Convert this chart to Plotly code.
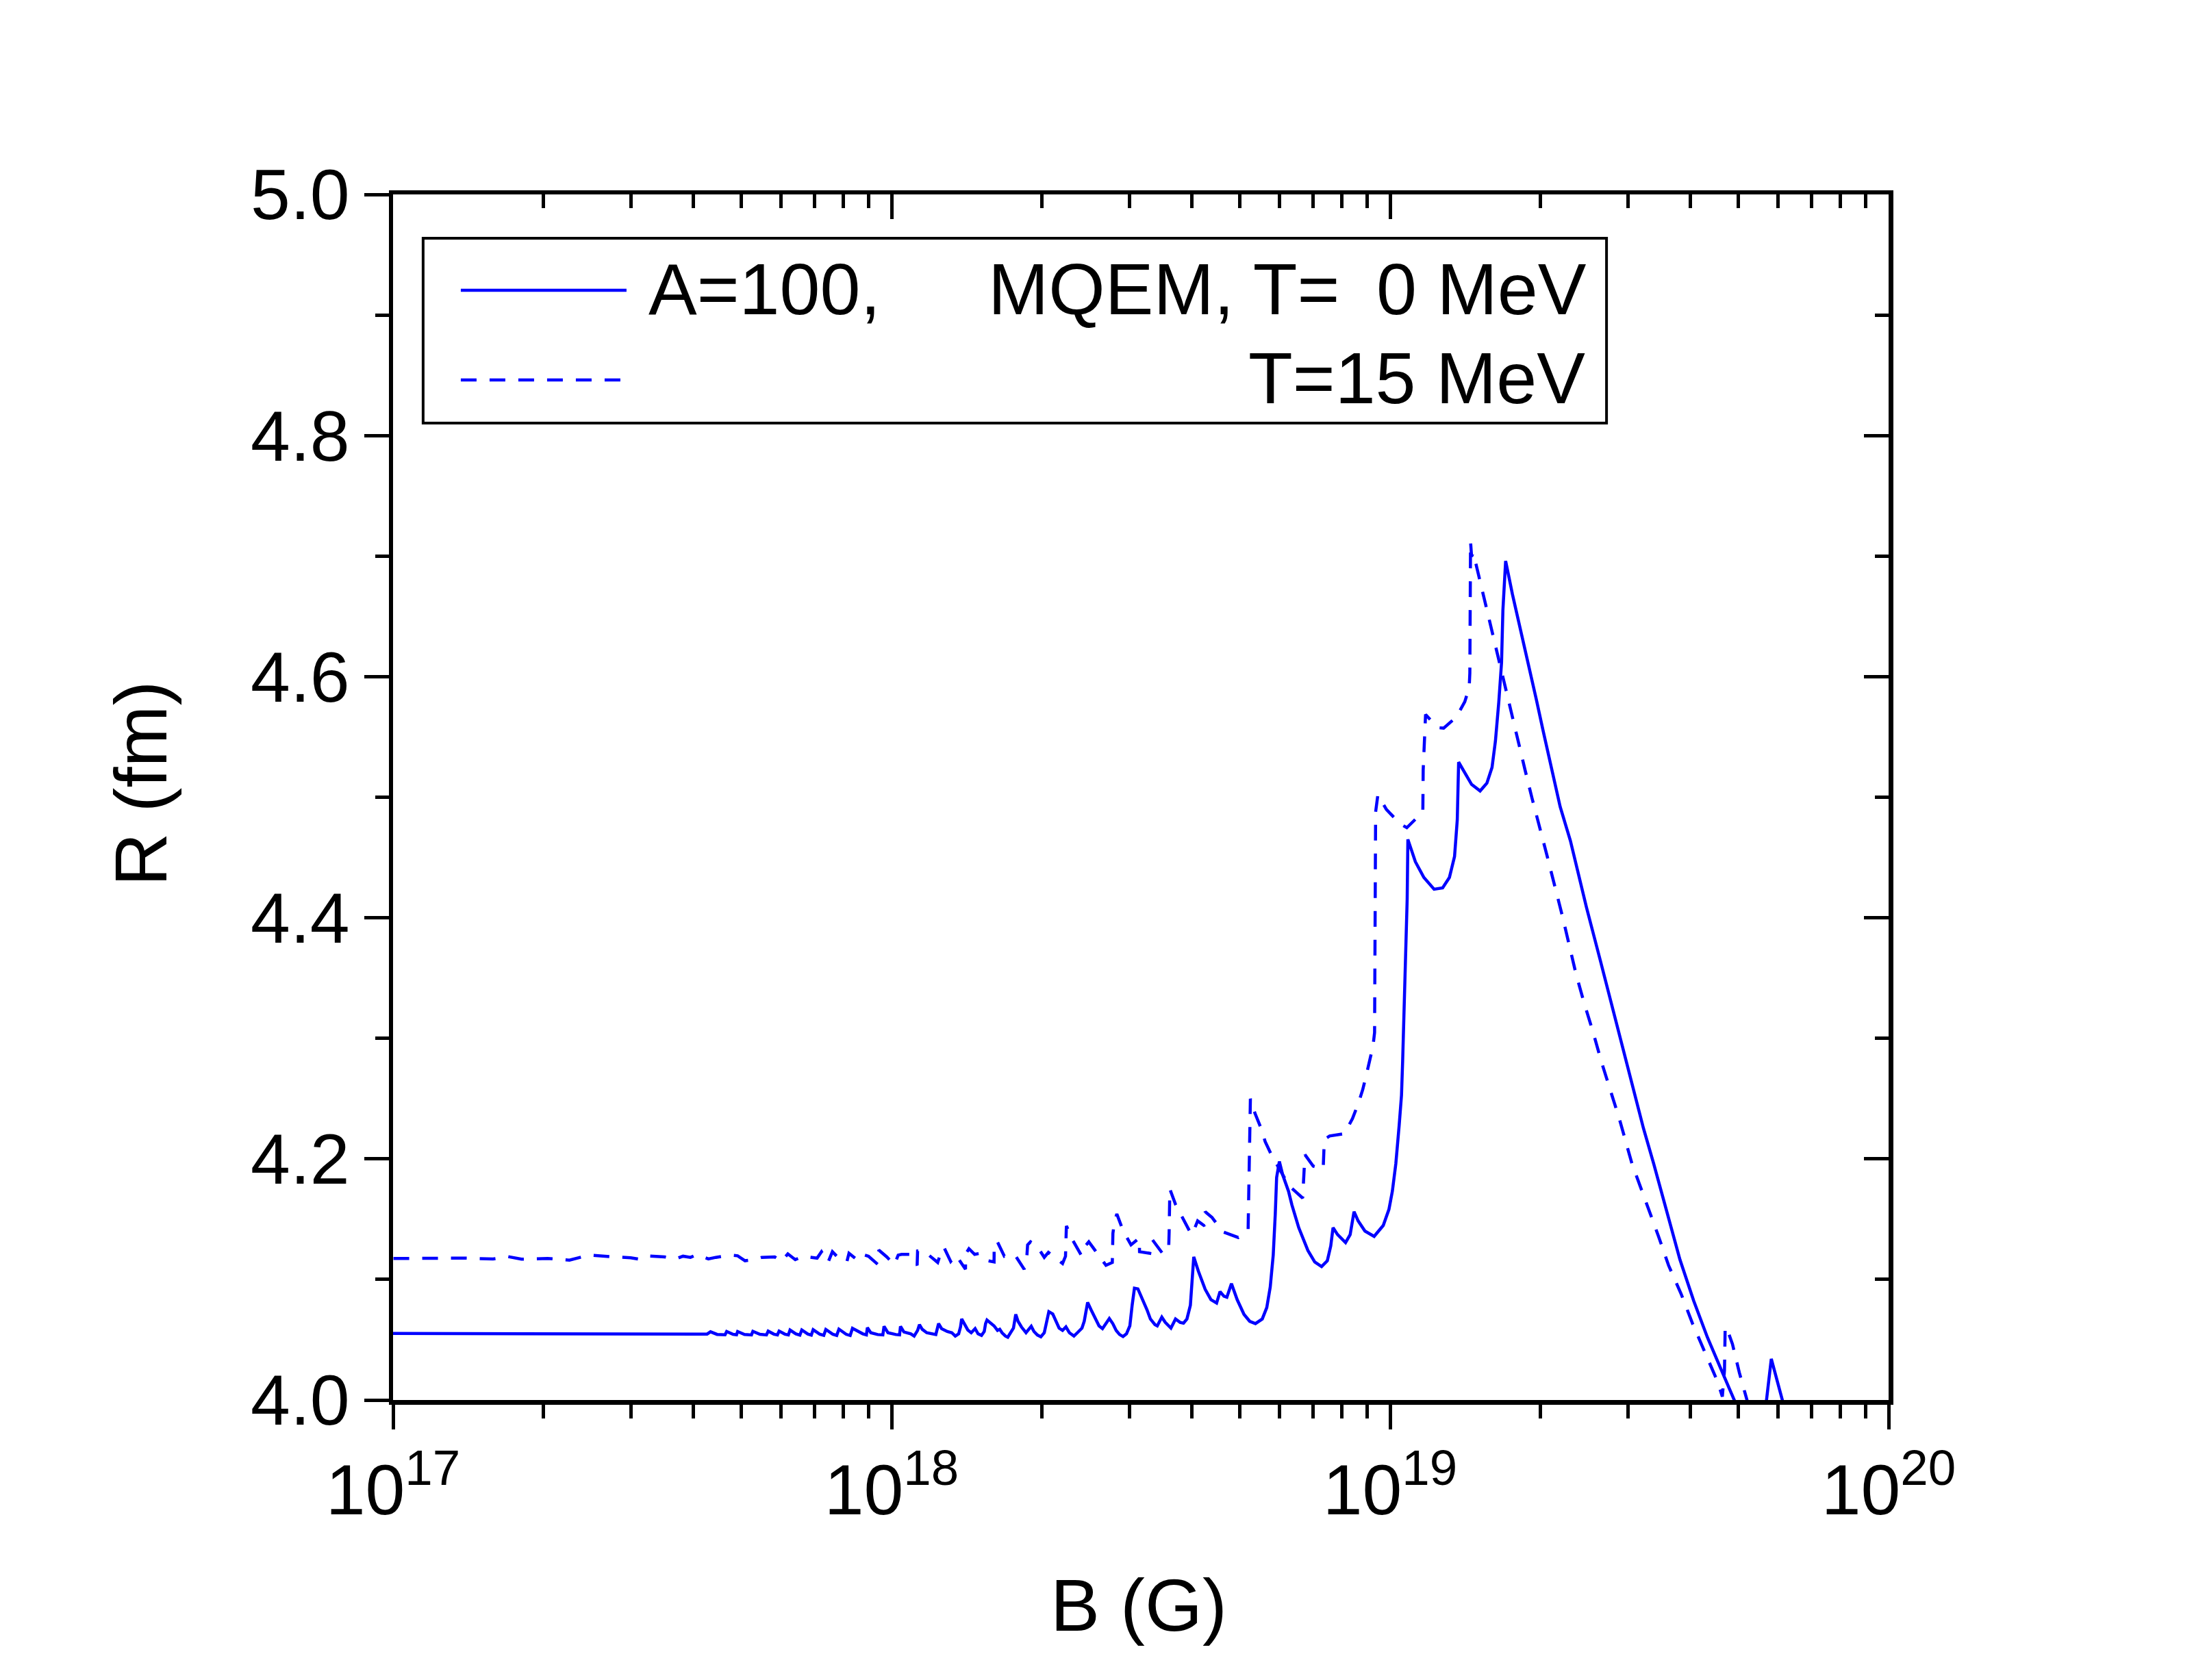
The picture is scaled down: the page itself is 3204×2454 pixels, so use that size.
import plotly.graph_objects as go

# ---------------- data ----------------
# T = 0 MeV curve: log10(B/G) and R (fm)
logB_T0 = [
    17.000, 17.200, 17.400, 17.600, 17.630, 17.6368, 17.650, 17.666, 17.6692, 17.682,
    17.689, 17.6912, 17.705, 17.719, 17.7218, 17.736, 17.749, 17.7525, 17.764, 17.771,
    17.7744, 17.786, 17.793, 17.7963, 17.808, 17.816, 17.8199, 17.832, 17.839, 17.8427,
    17.856, 17.864, 17.8681, 17.882, 17.890, 17.8944, 17.909, 17.917, 17.9216, 17.9423,
    17.9495, 17.9515, 17.9583, 17.9721, 17.9825, 17.9849, 17.9927, 18.0087, 18.0160, 18.0179,
    18.0247, 18.0385, 18.0453, 18.0522, 18.0559, 18.0614, 18.0705, 18.0888, 18.0943, 18.1003,
    18.1071, 18.1117, 18.1209, 18.1278, 18.1346, 18.1383, 18.1406, 18.1461, 18.1529, 18.1598,
    18.1676, 18.1735, 18.1804, 18.1859, 18.1886, 18.1914, 18.1987, 18.2056, 18.2125, 18.2170,
    18.2216, 18.2285, 18.2331, 18.2390, 18.2445, 18.2491, 18.2537, 18.2605, 18.2697, 18.2802,
    18.2857, 18.2926, 18.2995, 18.3063, 18.3109, 18.3155, 18.3233, 18.3292, 18.3361, 18.3430,
    18.3498, 18.3567, 18.3658, 18.3727, 18.3819, 18.3865, 18.3933, 18.4002, 18.4093, 18.4162,
    18.4231, 18.4299, 18.4368, 18.4437, 18.4506, 18.4574, 18.4643, 18.4712, 18.4780, 18.4826,
    18.4872, 18.4941, 18.5032, 18.5124, 18.5192, 18.5284, 18.5330, 18.5421, 18.5490, 18.5604,
    18.5696, 18.5788, 18.5856, 18.5925, 18.5994, 18.6039, 18.6062, 18.6154, 18.6222, 18.6291,
    18.6406, 18.6520, 18.6589, 18.6667, 18.6726, 18.6818, 18.6932, 18.7070, 18.7184, 18.7299,
    18.7436, 18.7527, 18.7596, 18.7656, 18.7697, 18.7724, 18.7779, 18.7848, 18.7962, 18.8031,
    18.8168, 18.8260, 18.8352, 18.8489, 18.8626, 18.8741, 18.8810, 18.8856, 18.8947, 18.9107,
    18.9199, 18.9277, 18.9359, 18.9496, 18.9680, 18.9863, 18.9977, 19.0046, 19.0115, 19.0183,
    19.0229, 19.0252, 19.0275, 19.0298, 19.0320, 19.0343, 19.0357, 19.0507, 19.0678, 19.0883,
    19.1054, 19.1190, 19.1293, 19.1348, 19.1375, 19.1498, 19.1635, 19.1806, 19.1942, 19.2045,
    19.2113, 19.2181, 19.2236, 19.2263, 19.2297, 19.2318, 19.2455, 19.2626, 19.2796, 19.2933,
    19.3070, 19.3241, 19.3412, 19.3617, 19.3938, 19.4213, 19.4487, 19.4762, 19.5083, 19.5289,
    19.5540, 19.5815, 19.6090, 19.6364, 19.6639, 19.6914, 19.6960, None, 19.7540, 19.7647,
    19.7875, 19.7900,
]
R_T0 = [
    4.0552, 4.0551, 4.0551, 4.0550, 4.0547, 4.0566, 4.0544, 4.0541, 4.0568, 4.0545,
    4.0541, 4.0568, 4.0544, 4.0540, 4.0570, 4.0545, 4.0540, 4.0571, 4.0546, 4.0540,
    4.0572, 4.0546, 4.0540, 4.0580, 4.0548, 4.0538, 4.0581, 4.0547, 4.0538, 4.0583,
    4.0546, 4.0537, 4.0585, 4.0546, 4.0536, 4.0588, 4.0545, 4.0535, 4.0595, 4.0549,
    4.0540, 4.0600, 4.0558, 4.0543, 4.0540, 4.0611, 4.0558, 4.0543, 4.0540, 4.0611,
    4.0564, 4.0549, 4.0530, 4.0577, 4.0625, 4.0587, 4.0558, 4.0543, 4.0634, 4.0592,
    4.0577, 4.0568, 4.0558, 4.0530, 4.0549, 4.0606, 4.0672, 4.0634, 4.0581, 4.0558,
    4.0592, 4.0549, 4.0536, 4.0568, 4.0634, 4.0663, 4.0634, 4.0615, 4.0577, 4.0587,
    4.0558, 4.0530, 4.0521, 4.0558, 4.0596, 4.0710, 4.0653, 4.0606, 4.0558, 4.0611,
    4.0568, 4.0539, 4.0524, 4.0558, 4.0634, 4.0733, 4.0714, 4.0653, 4.0596, 4.0577,
    4.0606, 4.0558, 4.0530, 4.0558, 4.0596, 4.0653, 4.0810, 4.0748, 4.0672, 4.0615,
    4.0592, 4.0634, 4.0676, 4.0634, 4.0577, 4.0543, 4.0526, 4.0549, 4.0615, 4.0786,
    4.0928, 4.0922, 4.0842, 4.0748, 4.0672, 4.0625, 4.0615, 4.0687, 4.0644, 4.0596,
    4.0672, 4.0644, 4.0638, 4.0672, 4.0786, 4.1013, 4.1187, 4.1069, 4.0994, 4.0918,
    4.0833, 4.0804, 4.0899, 4.0861, 4.0852, 4.0965, 4.0833, 4.0710, 4.0653, 4.0634,
    4.0672, 4.0767, 4.0937, 4.1202, 4.1543, 4.1846, 4.1978, 4.1865, 4.1732, 4.1618,
    4.1429, 4.1334, 4.1240, 4.1145, 4.1107, 4.1155, 4.1278, 4.1429, 4.1372, 4.1306,
    4.1372, 4.1562, 4.1486, 4.1401, 4.1357, 4.1448, 4.1581, 4.1732, 4.1959, 4.2281,
    4.2527, 4.2811, 4.3190, 4.3511, 4.3814, 4.4155, 4.4650, 4.4465, 4.4334, 4.4237,
    4.4248, 4.4334, 4.4508, 4.4813, 4.5291, 4.5204, 4.5106, 4.5052, 4.5117, 4.5247,
    4.5465, 4.5791, 4.6117, 4.6551, 4.6877, 4.6960, 4.6682, 4.6377, 4.6073, 4.5812,
    4.5551, 4.5247, 4.4921, 4.4639, 4.4089, 4.3653, 4.3208, 4.2773, 4.2253, 4.1959,
    4.1580, 4.1164, 4.0823, 4.0521, 4.0255, 3.9990, 3.9920, None, 3.9960, 4.0341,
    3.9990, 3.9920,
]

# T = 15 MeV curve
logB_T15 = [
    17.0008, 17.1436, 17.2006, 17.2312, 17.2575, 17.3101, 17.3539, 17.3933, 17.4415, 17.4766,
    17.4941, 17.5098, 17.5449, 17.5659, 17.5817, 17.5966, 17.6097, 17.6325, 17.6474, 17.6605,
    17.6763, 17.6912, 17.7060, 17.7236, 17.7393, 17.7656, 17.7788, 17.7919, 17.8068, 17.8226,
    17.8506, 17.8594, 17.8725, 17.8813, 17.8944, 17.9102, 17.9146, 17.9331, 17.9460, 17.9538,
    17.9721, 17.9744, 17.9904, 18.0055, 18.0133, 18.0201, 18.0362, 18.0513, 18.0522, 18.0636,
    18.0788, 18.0925, 18.0989, 18.1049, 18.1186, 18.1291, 18.1483, 18.1485, 18.1552, 18.1667,
    18.1781, 18.1932, 18.2056, 18.2058, 18.2115, 18.2262, 18.2376, 18.2477, 18.2660, 18.2711,
    18.2729, 18.2788, 18.2912, 18.3063, 18.3146, 18.3283, 18.3430, 18.3489, 18.3498, 18.3507,
    18.3635, 18.3810, 18.3865, 18.3956, 18.4084, 18.4301, 18.4428, 18.4437, 18.4440, 18.4474,
    18.4519, 18.4643, 18.4803, 18.4970, 18.4974, 18.5179, 18.5229, 18.5444, 18.5559, 18.5568,
    18.5582, 18.5696, 18.5856, 18.6016, 18.6085, 18.6140, 18.6278, 18.6291, 18.6428, 18.6648,
    18.6955, 18.7152, 18.7198, 18.7289, 18.7404, 18.7495, 18.7633, 18.7976, 18.8246, 18.8292,
    18.8457, 18.8658, 18.8681, 18.8787, 18.9084, 18.9245, 18.9359, 18.9451, 18.9519, 18.9588,
    18.9657, 18.9689, 18.9710, 18.9755, 18.9926, 19.0200, 19.0336, 19.0657, 19.0664, 19.0712,
    19.0951, 19.1074, 19.1327, 19.1498, 19.1587, 19.1600, 19.1614, 19.1635, 19.1669, 19.1737,
    19.1874, 19.2011, 19.2147, 19.2284, 19.2420, 19.2558, 19.2708, 19.2851, 19.3001, 19.3155,
    19.3457, 19.3732, 19.3892, 19.4075, 19.4235, 19.4419, 19.4602, 19.4853, 19.5174, 19.5380,
    19.5586, 19.5838, 19.6067, 19.6319, 19.6571, 19.6665, 19.6708, 19.6722, 19.6754, 19.6868,
    19.7006, 19.7166, 19.7200,
]
R_T15 = [
    4.1174, 4.1177, 4.1170, 4.1189, 4.1168, 4.1174, 4.1160, 4.1202, 4.1187, 4.1180,
    4.1168, 4.1196, 4.1187, 4.1168, 4.1193, 4.1183, 4.1206, 4.1170, 4.1183, 4.1193,
    4.1202, 4.1196, 4.1155, 4.1164, 4.1183, 4.1187, 4.1149, 4.1212, 4.1164, 4.1193,
    4.1177, 4.1230, 4.1141, 4.1230, 4.1174, 4.1145, 4.1217, 4.1155, 4.1202, 4.1192,
    4.1126, 4.1244, 4.1187, 4.1121, 4.1202, 4.1208, 4.1208, 4.1117, 4.1236, 4.1240,
    4.1192, 4.1141, 4.1221, 4.1268, 4.1149, 4.1202, 4.1085, 4.1211, 4.1255, 4.1208,
    4.1217, 4.1155, 4.1145, 4.1268, 4.1319, 4.1192, 4.1206, 4.1202, 4.1085, 4.1174,
    4.1287, 4.1312, 4.1281, 4.1183, 4.1225, 4.1179, 4.1132, 4.1192, 4.1319, 4.1444,
    4.1325, 4.1198, 4.1268, 4.1312, 4.1240, 4.1117, 4.1141, 4.1259, 4.1382, 4.1486,
    4.1543, 4.1406, 4.1287, 4.1344, 4.1230, 4.1217, 4.1331, 4.1211, 4.1262, 4.1391,
    4.1751, 4.1622, 4.1501, 4.1372, 4.1429, 4.1486, 4.1444, 4.1562, 4.1514, 4.1395,
    4.1348, 4.1410, 4.2499, 4.2379, 4.2262, 4.2143, 4.2022, 4.1776, 4.1675, 4.2035,
    4.1940, 4.1916, 4.2162, 4.2190, 4.2209, 4.2334, 4.2455, 4.2574, 4.2688, 4.2820,
    4.2934, 4.3048, 4.4878, 4.5019, 4.4899, 4.4780, 4.4747, 4.4878, 4.5225, 4.5686,
    4.5577, 4.5573, 4.5664, 4.5791, 4.5910, 4.6030, 4.7121, 4.6997, 4.7029, 4.6910,
    4.6671, 4.6432, 4.6192, 4.5954, 4.5714, 4.5465, 4.5225, 4.4986, 4.4737, 4.4505,
    4.4013, 4.3530, 4.3294, 4.3048, 4.2811, 4.2565, 4.2328, 4.1959, 4.1599, 4.1363,
    4.1117, 4.0880, 4.0634, 4.0398, 4.0151, 4.0028, 4.0246, 4.0606, 4.0596, 4.0464,
    4.0227, 3.9990, 3.9940,
]

x_tick_exponents = [17, 18, 19, 20]
x_minor_mult = [2, 3, 4, 5, 6, 7, 8, 9]
y_major = [4.0, 4.2, 4.4, 4.6, 4.8, 5.0]
y_minor = [4.1, 4.3, 4.5, 4.7, 4.9]

legend_T0_left = "A=100,"
legend_T0_mid = "MQEM, T="
legend_T0_right = "0 MeV"
legend_T15 = "T=15 MeV"
x_title = "B (G)"
y_title = "R (fm)"

# ---------------- figure ----------------
FONT = "Liberation Sans, Arial, Helvetica, sans-serif"
BLUE = "#0000FF"
DASH = "23px,19px"

def to_B(vals):
    return [None if v is None else 10 ** v for v in vals]

fig = go.Figure()
fig.add_trace(go.Scatter(x=to_B(logB_T0), y=R_T0, mode="lines",
                         line=dict(color=BLUE, width=4.5), connectgaps=False,
                         showlegend=False, hoverinfo="skip"))
fig.add_trace(go.Scatter(x=to_B(logB_T15), y=R_T15, mode="lines",
                         line=dict(color=BLUE, width=4.5, dash=DASH),
                         showlegend=False, hoverinfo="skip"))
# helper trace so that the mirrored (top/right) axes are drawn
fig.add_trace(go.Scatter(x=[None], y=[None], xaxis="x2", yaxis="y2", mode="lines",
                         showlegend=False, hoverinfo="skip"))

major_x = [10.0 ** e for e in x_tick_exponents]
minor_x = [m * 10.0 ** e for e in x_tick_exponents[:-1] for m in x_minor_mult]
tick_text_x = [f"10<sup>{e}</sup>" for e in x_tick_exponents]

common = dict(showline=True, linewidth=6.5, linecolor="black", showgrid=False,
              zeroline=False, tickwidth=5, tickcolor="black", ticklen=36)

fig.update_layout(
    width=3204, height=2454,
    margin=dict(l=574, r=446, t=284, b=409, pad=0),
    paper_bgcolor="white", plot_bgcolor="white",
    font=dict(family=FONT, color="black"),
    xaxis=dict(type="log", range=[17, 20], side="bottom", ticks="outside",
               tickvals=major_x, ticktext=tick_text_x,
               tickfont=dict(size=104, family=FONT, color="black"),
               minor=dict(ticks="outside", ticklen=20, tickwidth=5, tickcolor="black",
                          tickvals=minor_x, showgrid=False),
               **common),
    xaxis2=dict(type="log", range=[17, 20], overlaying="x", side="top", anchor="y2",
                ticks="inside", tickvals=major_x, showticklabels=False,
                minor=dict(ticks="inside", ticklen=20, tickwidth=5, tickcolor="black",
                           tickvals=minor_x, showgrid=False),
                **common),
    yaxis=dict(range=[4, 5], side="left", ticks="outside", tickvals=y_major,
               ticktext=[f"{v:.1f}" for v in y_major],
               tickfont=dict(size=104, family=FONT, color="black"),
               minor=dict(ticks="outside", ticklen=20, tickwidth=5, tickcolor="black",
                          tickvals=y_minor, showgrid=False),
               **common),
    yaxis2=dict(range=[4, 5], overlaying="y", side="right", anchor="x2",
                ticks="inside", tickvals=y_major, showticklabels=False,
                minor=dict(ticks="inside", ticklen=20, tickwidth=5, tickcolor="black",
                           tickvals=y_minor, showgrid=False),
                **common),
)

# legend box drawn by hand (paper coordinates)
fig.add_shape(type="rect", xref="paper", yref="paper", x0=0.0201, x1=0.8114,
              y0=0.8103, y1=0.9637, line=dict(color="black", width=4),
              fillcolor="white", layer="above")
fig.add_shape(type="line", xref="paper", yref="paper", x0=0.0453, x1=0.1561,
              y0=0.9205, y1=0.9205, line=dict(color=BLUE, width=4.5), layer="above")
fig.add_shape(type="line", xref="paper", yref="paper", x0=0.0453, x1=0.1561,
              y0=0.8461, y1=0.8461, line=dict(color=BLUE, width=4.5, dash=DASH), layer="above")

def ann(text, x, y, xanchor="left", angle=0, size=106):
    fig.add_annotation(text=text, x=x, y=y, xref="paper", yref="paper",
                       xanchor=xanchor, yanchor="middle", showarrow=False,
                       textangle=angle, font=dict(size=size, family=FONT, color="black"))

ann(legend_T0_left, 0.1699, 0.9216)
ann(legend_T0_mid, 0.3970, 0.9216)
ann(legend_T0_right, 0.6566, 0.9216)
ann(legend_T15, 0.5710, 0.8478)
ann(x_title, 0.4986, -0.1698, xanchor="center", size=108)
ann(y_title, -0.1687, 0.5111, xanchor="center", angle=-90, size=108)

fig.write_html("out.html",
               config={"displayModeBar": False, "staticPlot": True},
               post_script="document.body.style.margin='0';document.body.style.overflow='hidden';")
